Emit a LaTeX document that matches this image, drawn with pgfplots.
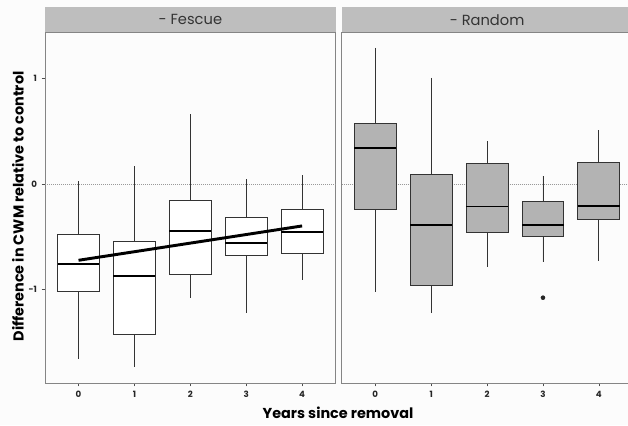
\documentclass[border=0pt]{standalone}
\usepackage{fontspec}
\setmainfont{Poppins}
\usepackage{pgfplots}
\pgfplotsset{compat=1.18}
\usepgfplotslibrary{statistics}

\definecolor{stripc}{HTML}{BEBEBE}
\definecolor{boxfill}{HTML}{B3B3B3}
\definecolor{boxline}{HTML}{333333}
\definecolor{axisc}{HTML}{858585}
\definecolor{bgc}{HTML}{FCFCFC}

% one facet panel; sizes in pt (0.75pt per pixel of the 628x425 reference)
\pgfplotsset{
  facet/.style={
    scale only axis,
    width=218pt, height=263.25pt,
    anchor=south west,
    xmin=-0.6, xmax=4.6,
    ymin=-1.883, ymax=1.438,
    xtick={0,1,2,3,4},
    xticklabels={0,1,2,3,4},
    tick pos=left,
    tick align=outside,
    major tick length=2.5pt,
    axis line style={axisc, line width=0.7pt},
    tick style={black!70, line width=0.5pt},
    ticklabel style={font=\bfseries\fontsize{6.5}{7}\selectfont, text=black!85},
    axis background/.style={fill=bgc},
    boxplot/draw direction=y,
    boxplot/box extend=0.75,
    boxplot/whisker extend=0,
    boxplot/every median/.style={black, line width=1.3pt},
  },
  bx/.style={draw=boxline, line width=0.65pt, fill=#1},
}

\begin{document}
\begin{tikzpicture}
\clip (0,0) rectangle (471pt,318.75pt);
\useasboundingbox (0,0) rectangle (471pt,318.75pt);
\fill[bgc] (0,0) rectangle (471pt,318.75pt);

% ---- Fescue ----
\begin{axis}[facet, at={(33.75pt,31.5pt)},
    ytick={-1,0,1}, yticklabels={-1,0,1}]
\addplot[gray!80, densely dotted, line width=0.5pt] coordinates {(-0.6,0) (4.6,0)};
\addplot[bx=white, boxplot prepared={draw position=0,
    lower whisker=-1.658, lower quartile=-1.012, median=-0.760,
    upper quartile=-0.476, upper whisker=0.028}] coordinates {};
\addplot[bx=white, boxplot prepared={draw position=1,
    lower whisker=-1.734, lower quartile=-1.426, median=-0.868,
    upper quartile=-0.546, upper whisker=0.173}] coordinates {};
\addplot[bx=white, boxplot prepared={draw position=2,
    lower whisker=-1.076, lower quartile=-0.854, median=-0.447,
    upper quartile=-0.158, upper whisker=0.662}] coordinates {};
\addplot[bx=white, boxplot prepared={draw position=3,
    lower whisker=-1.218, lower quartile=-0.675, median=-0.561,
    upper quartile=-0.312, upper whisker=0.047}] coordinates {};
\addplot[bx=white, boxplot prepared={draw position=4,
    lower whisker=-0.905, lower quartile=-0.659, median=-0.454,
    upper quartile=-0.239, upper whisker=0.082}] coordinates {};
% fitted trend
\addplot[black, line width=2.2pt] coordinates {(0,-0.722) (4,-0.397)};
\end{axis}

% ---- Random ----
\begin{axis}[facet, at={(256.3pt,31.5pt)}, ytick=\empty]
\addplot[gray!80, densely dotted, line width=0.5pt] coordinates {(-0.6,0) (4.6,0)};
\addplot[bx=boxfill, boxplot prepared={draw position=0,
    lower whisker=-1.019, lower quartile=-0.243, median=0.341,
    upper quartile=0.574, upper whisker=1.290}] coordinates {};
\addplot[bx=boxfill, boxplot prepared={draw position=1,
    lower whisker=-1.223, lower quartile=-0.962, median=-0.391,
    upper quartile=0.088, upper whisker=1.006}] coordinates {};
\addplot[bx=boxfill, boxplot prepared={draw position=2,
    lower whisker=-0.785, lower quartile=-0.461, median=-0.213,
    upper quartile=0.196, upper whisker=0.404}] coordinates {};
\addplot[bx=boxfill, boxplot prepared={draw position=3,
    lower whisker=-0.738, lower quartile=-0.499, median=-0.391,
    upper quartile=-0.167, upper whisker=0.076}] coordinates {};
\addplot[bx=boxfill, boxplot prepared={draw position=4,
    lower whisker=-0.726, lower quartile=-0.331, median=-0.205,
    upper quartile=0.208, upper whisker=0.508}] coordinates {};
% outlier
\addplot[only marks, mark=*, mark size=1.5pt, black!85,
    mark options={solid, fill=black!85}] coordinates {(3,-1.076)};
\end{axis}

% strips
\fill[stripc] (33.75pt,295pt) rectangle (251.75pt,313.3pt);
\fill[stripc] (256.3pt,295pt) rectangle (474.3pt,313.3pt);
\draw[axisc, line width=0.7pt] (33.75pt,294.75pt) -- (251.75pt,294.75pt);
\draw[axisc, line width=0.7pt] (256.3pt,294.75pt) -- (474.3pt,294.75pt);
\node[font=\fontsize{11}{12}\selectfont, text=black!80] at (142.75pt,304pt) {- Fescue};
\node[font=\fontsize{11}{12}\selectfont, text=black!80] at (365.3pt,304pt) {- Random};

% axis titles
\node[font=\bfseries\fontsize{10.8}{12}\selectfont] at (253.5pt,9pt) {Years since removal};
\node[font=\bfseries\fontsize{10.8}{12}\selectfont, rotate=90] at (13.5pt,163.9pt)
    {Difference in CWM relative to control};
\end{tikzpicture}
\end{document}
